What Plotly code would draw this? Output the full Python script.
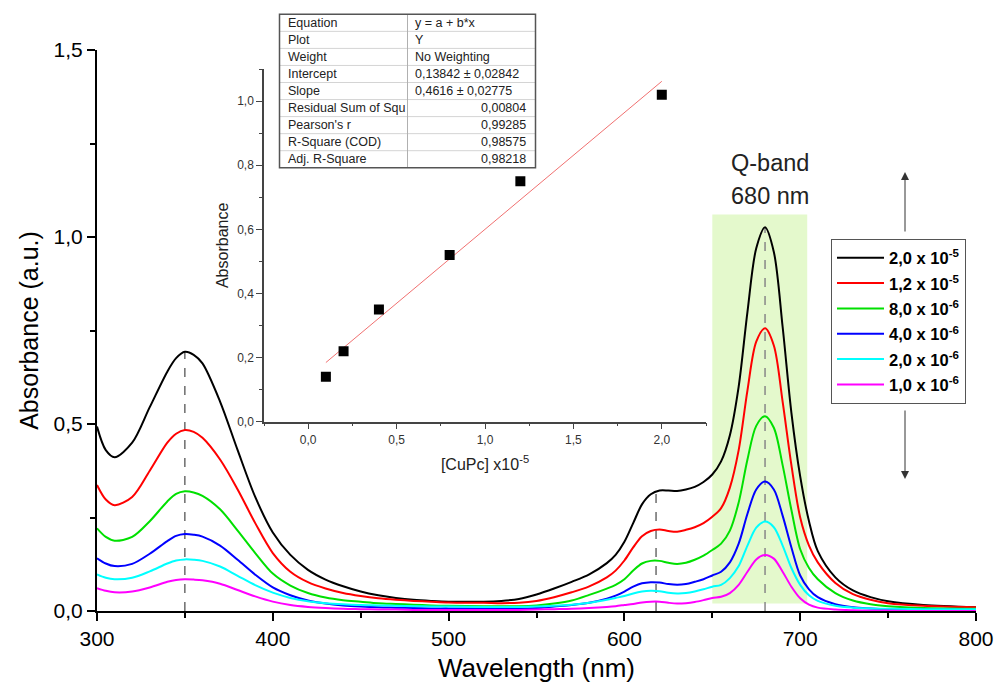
import numpy as np
import plotly.graph_objects as go

# ---------------- data ----------------
wavelength = [300, 305, 310, 320, 330, 340, 345, 350, 355, 360, 370, 380,
              390, 400, 410, 420, 430, 440, 450, 460, 470, 480,
              490, 500, 520, 530, 540, 550, 560, 570, 580, 590, 595,
              600, 605, 610, 615, 620, 625, 630, 635, 640, 645,
              650, 655, 660, 665, 670, 675, 680, 685, 690, 695,
              700, 705, 710, 720, 730, 740, 750, 770, 800]

abs_20e6 = [0.493, 0.43, 0.411, 0.45, 0.545, 0.64, 0.676, 0.693, 0.685, 0.662, 0.56, 0.43,
            0.305, 0.21, 0.15, 0.11, 0.084, 0.066, 0.052, 0.042, 0.035, 0.03,
            0.027, 0.025, 0.025, 0.027, 0.032, 0.044, 0.06, 0.078, 0.098, 0.128, 0.15,
            0.185, 0.235, 0.285, 0.312, 0.322, 0.322, 0.321, 0.325, 0.332, 0.345,
            0.365, 0.40, 0.47, 0.60, 0.80, 0.97, 1.026, 0.96, 0.76, 0.53,
            0.36, 0.24, 0.16, 0.09, 0.055, 0.037, 0.026, 0.016, 0.01]

abs_12e6 = [0.337, 0.298, 0.283, 0.305, 0.375, 0.45, 0.474, 0.484, 0.479, 0.463, 0.405, 0.325,
            0.235, 0.155, 0.105, 0.077, 0.06, 0.048, 0.04, 0.034, 0.03, 0.027,
            0.025, 0.023, 0.022, 0.021, 0.022, 0.027, 0.037, 0.05, 0.066, 0.09, 0.108,
            0.135, 0.17, 0.2, 0.214, 0.218, 0.214, 0.212, 0.217, 0.224, 0.235,
            0.252, 0.275, 0.33, 0.43, 0.59, 0.72, 0.756, 0.71, 0.56, 0.39,
            0.25, 0.175, 0.13, 0.075, 0.045, 0.03, 0.021, 0.014, 0.01]

abs_8e6 = [0.221, 0.198, 0.188, 0.198, 0.24, 0.293, 0.313, 0.32, 0.317, 0.308, 0.272, 0.215,
           0.155, 0.1, 0.068, 0.048, 0.036, 0.029, 0.025, 0.021, 0.019, 0.017,
           0.015, 0.014, 0.013, 0.013, 0.013, 0.015, 0.02, 0.028, 0.043, 0.06, 0.07,
           0.085, 0.108, 0.127, 0.134, 0.134, 0.129, 0.126, 0.129, 0.137, 0.148,
           0.163, 0.18, 0.215, 0.29, 0.405, 0.495, 0.521, 0.49, 0.39, 0.27,
           0.165, 0.115, 0.085, 0.048, 0.028, 0.018, 0.013, 0.008, 0.006]

abs_4e6 = [0.141, 0.127, 0.12, 0.126, 0.153, 0.187, 0.201, 0.206, 0.204, 0.199, 0.175, 0.137,
           0.097, 0.063, 0.042, 0.028, 0.02, 0.015, 0.012, 0.01, 0.009, 0.008,
           0.007, 0.007, 0.006, 0.006, 0.006, 0.008, 0.012, 0.016, 0.022, 0.033, 0.041,
           0.052, 0.065, 0.074, 0.077, 0.076, 0.072, 0.07, 0.072, 0.078, 0.085,
           0.095, 0.105, 0.13, 0.18, 0.26, 0.325, 0.346, 0.325, 0.255, 0.17,
           0.095, 0.058, 0.037, 0.018, 0.01, 0.007, 0.005, 0.004, 0.003]

abs_2e6 = [0.098, 0.089, 0.085, 0.089, 0.106, 0.127, 0.135, 0.138, 0.137, 0.134, 0.119, 0.094,
           0.069, 0.049, 0.035, 0.026, 0.021, 0.018, 0.016, 0.015, 0.014, 0.013,
           0.012, 0.012, 0.011, 0.011, 0.011, 0.012, 0.014, 0.017, 0.022, 0.03, 0.035,
           0.04, 0.047, 0.052, 0.054, 0.053, 0.049, 0.047, 0.048, 0.052, 0.058,
           0.065, 0.07, 0.088, 0.12, 0.175, 0.223, 0.239, 0.224, 0.175, 0.115,
           0.07, 0.042, 0.027, 0.014, 0.009, 0.007, 0.006, 0.005, 0.005]

abs_1e6 = [0.061, 0.054, 0.05, 0.052, 0.063, 0.078, 0.083, 0.085, 0.084, 0.082, 0.073, 0.056,
           0.039, 0.025, 0.016, 0.011, 0.008, 0.006, 0.005, 0.004, 0.004, 0.003,
           0.003, 0.003, 0.003, 0.003, 0.003, 0.004, 0.005, 0.006, 0.008, 0.011, 0.013,
           0.016, 0.019, 0.023, 0.025, 0.025, 0.022, 0.02, 0.021, 0.024, 0.029,
           0.035, 0.038, 0.048, 0.07, 0.105, 0.138, 0.15, 0.14, 0.105, 0.065,
           0.034, 0.017, 0.009, 0.004, 0.002, 0.001, 0.001, 0.0, 0.0]

series_values = [abs_20e6, abs_12e6, abs_8e6, abs_4e6, abs_2e6, abs_1e6]
series_names = ["2,0 x 10<sup>-5</sup>", "1,2 x 10<sup>-5</sup>", "8,0 x 10<sup>-6</sup>",
                "4,0 x 10<sup>-6</sup>", "2,0 x 10<sup>-6</sup>", "1,0 x 10<sup>-6</sup>"]
series_colors = ["#000000", "#ff0000", "#00e000", "#0000ff", "#00ffff", "#ff00ff"]

peak_wavelengths = [350, 618, 680]
qband_range = [650, 704]

# inset (calibration) data
conc = [0.1, 0.2, 0.4, 0.8, 1.2, 2.0]
inset_abs = [0.14, 0.22, 0.35, 0.52, 0.75, 1.02]
fit_intercept = 0.13842
fit_slope = 0.4616

table_labels = ["Equation", "Plot", "Weight", "Intercept", "Slope",
                "Residual Sum of Squ", "Pearson's r", "R-Square (COD)", "Adj. R-Square"]
table_values = ["y = a + b*x", "Y", "No Weighting", "0,13842 ± 0,02842", "0,4616 ± 0,02775",
                "0,00804", "0,99285", "0,98575", "0,98218"]
table_value_align = ["left", "left", "left", "left", "left", "right", "right", "right", "right"]

# ---------------- layout helpers (pixel -> paper) ----------------
W, H = 997, 686
PL, PR, PT, PB = 97, 976, 50, 611


def xp(px):
    return (px - PL) / (PR - PL)


def yp(py):
    return (PB - py) / (PB - PT)


FONT = "Liberation Sans, Arial, sans-serif"

fig = go.Figure()

for vals, name, col in zip(series_values, series_names, series_colors):
    fig.add_trace(go.Scatter(
        x=wavelength, y=vals, mode="lines",
        name='<span style="font-size:16.5px"><b>' + name + "</b></span>",
        line=dict(color=col, width=2, shape="spline", smoothing=0.9),
        xaxis="x", yaxis="y"))

# inset fit line and points
fit_x = [conc[0], conc[-1]]
fit_y = [fit_intercept + fit_slope * c for c in fit_x]
fig.add_trace(go.Scatter(x=fit_x, y=fit_y, mode="lines", showlegend=False,
                         line=dict(color="#f07070", width=1), xaxis="x2", yaxis="y2"))
fig.add_trace(go.Scatter(x=conc, y=inset_abs, mode="markers", showlegend=False,
                         marker=dict(symbol="square", size=10, color="black"),
                         xaxis="x2", yaxis="y2"))

shapes = []
# Q-band highlight
shapes.append(dict(type="rect", xref="x", yref="y", x0=qband_range[0], x1=qband_range[1],
                   y0=0.02, y1=1.06, fillcolor="rgb(228,249,204)", line=dict(width=0),
                   layer="below"))
# dashed peak lines
black = np.array(abs_20e6)
for i, pw in enumerate(peak_wavelengths):
    top = float(np.interp(pw, wavelength, black))
    shapes.append(dict(type="line", xref="x", yref="y", x0=pw, x1=pw, y0=0, y1=top,
                       line=dict(color="#888888" if i == 2 else "#222222",
                                 width=1.5 if i == 2 else 1, dash="dash"),
                       layer="below"))

# table
T_L, T_R, T_TOP, ROW_H, T_DIV = 279.5, 535.5, 14.3, 17.05, 407.5
n_rows = len(table_labels)
T_BOT = T_TOP + ROW_H * n_rows
for i in range(1, n_rows):
    yy = yp(T_TOP + ROW_H * i)
    shapes.append(dict(type="line", xref="paper", yref="paper", x0=xp(T_L), x1=xp(T_R),
                       y0=yy, y1=yy, line=dict(color="#d4d4d4", width=1)))
shapes.append(dict(type="line", xref="paper", yref="paper", x0=xp(T_DIV), x1=xp(T_DIV),
                   y0=yp(T_TOP), y1=yp(T_BOT), line=dict(color="#b0b0b0", width=1)))
shapes.append(dict(type="rect", xref="paper", yref="paper", x0=xp(T_L), x1=xp(T_R),
                   y0=yp(T_BOT), y1=yp(T_TOP), line=dict(color="#555555", width=1.5)))

annotations = []
TFONT = dict(family=FONT, size=12.5, color="#222")
for i, (lab, val, al) in enumerate(zip(table_labels, table_values, table_value_align)):
    yc = yp(T_TOP + ROW_H * (i + 0.5))
    annotations.append(dict(text=lab, x=xp(286), y=yc, xref="paper", yref="paper",
                            xanchor="left", yanchor="middle", showarrow=False, font=TFONT))
    if al == "left":
        annotations.append(dict(text=val, x=xp(413), y=yc, xref="paper", yref="paper",
                                xanchor="left", yanchor="middle", showarrow=False, font=TFONT))
    else:
        annotations.append(dict(text=val, x=xp(528), y=yc, xref="paper", yref="paper",
                                xanchor="right", yanchor="middle", showarrow=False, font=TFONT))

# Q-band labels
annotations.append(dict(text="Q-band", x=xp(770), y=yp(163), xref="paper", yref="paper",
                        xanchor="center", yanchor="middle", showarrow=False,
                        font=dict(family=FONT, size=23.5, color="#222")))
annotations.append(dict(text="680 nm", x=xp(770), y=yp(196), xref="paper", yref="paper",
                        xanchor="center", yanchor="middle", showarrow=False,
                        font=dict(family=FONT, size=23.5, color="#222")))
# arrows (tail offset in pixels)
annotations.append(dict(text="", x=xp(905), y=yp(172), ax=0, ay=61,
                        xref="paper", yref="paper", axref="pixel", ayref="pixel",
                        showarrow=True, arrowhead=2, arrowsize=1.6, arrowwidth=1,
                        arrowcolor="#333"))
annotations.append(dict(text="", x=xp(905), y=yp(479), ax=0, ay=-70,
                        xref="paper", yref="paper", axref="pixel", ayref="pixel",
                        showarrow=True, arrowhead=2, arrowsize=1.6, arrowwidth=1,
                        arrowcolor="#333"))

axis_common = dict(showgrid=False, zeroline=False, showline=True, ticks="outside")

fig.update_layout(
    width=W, height=H,
    margin=dict(l=PL, r=W - PR, t=PT, b=H - PB, autoexpand=False),
    paper_bgcolor="white", plot_bgcolor="white",
    separators=", ",
    font=dict(family=FONT, color="black"),
    xaxis=dict(**axis_common, range=[300, 800], dtick=100, tick0=300,
               linecolor="black", linewidth=2, ticklen=8, tickwidth=1.5, tickcolor="black",
               minor=dict(dtick=50, ticklen=5, tickwidth=1.5, tickcolor="black", ticks="outside"),
               tickfont=dict(size=21, family=FONT),
               title=dict(text="Wavelength (nm)", font=dict(size=26, family=FONT), standoff=10)),
    yaxis=dict(**axis_common, range=[0, 1.5], dtick=0.5, tick0=0, tickformat=".1f",
               linecolor="black", linewidth=2, ticklen=8, tickwidth=1.5, tickcolor="black",
               minor=dict(dtick=0.25, ticklen=5, tickwidth=1.5, tickcolor="black", ticks="outside"),
               tickfont=dict(size=21, family=FONT),
               title=dict(text="Absorbance (a.u.)", font=dict(size=25, family=FONT), standoff=8)),
    xaxis2=dict(**axis_common, domain=[xp(264), xp(706)], anchor="y2", range=[-0.25, 2.25],
                dtick=0.5, tick0=0, tickformat=".1f",
                linecolor="#444", linewidth=1.5, ticklen=6, tickwidth=1, tickcolor="#444",
                minor=dict(dtick=0.25, ticklen=3, tickwidth=1, tickcolor="#444", ticks="outside"),
                tickfont=dict(size=12, family=FONT, color="#333"),
                title=dict(text="[CuPc] x10<sup>-5</sup>", font=dict(size=16, family=FONT, color="#222"),
                           standoff=13)),
    yaxis2=dict(**axis_common, domain=[yp(421.7), yp(69)], anchor="x2", range=[0, 1.1],
                dtick=0.2, tick0=0, tickformat=".1f",
                linecolor="#444", linewidth=1.5, ticklen=6, tickwidth=1, tickcolor="#444",
                minor=dict(dtick=0.1, ticklen=3, tickwidth=1, tickcolor="#444", ticks="outside"),
                tickfont=dict(size=12, family=FONT, color="#333"),
                title=dict(text="Absorbance", font=dict(size=16, family=FONT, color="#222"),
                           standoff=5)),
    legend=dict(x=xp(831), y=yp(239), xanchor="left", yanchor="top",
                bgcolor="white", bordercolor="#555", borderwidth=1,
                font=dict(family=FONT, size=17.2, color="black"), itemwidth=47,
                tracegroupgap=0),
    shapes=shapes,
    annotations=annotations,
)

fig.write_html("out.html")
